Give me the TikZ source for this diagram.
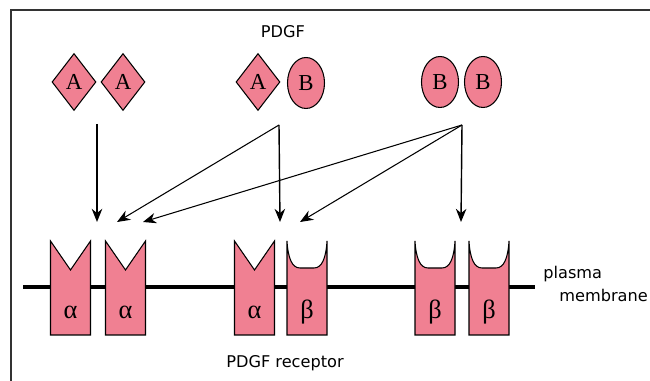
\documentclass[tikz,border=0pt]{standalone}
\usepackage{fontspec}
\newfontfamily\labelfont{DejaVu Sans}
\newfontfamily\letterfont{Liberation Serif}
\usetikzlibrary{shapes.geometric,arrows.meta}

\definecolor{recpink}{RGB}{240,128,146}

\tikzset{
	ligA/.style={diamond,draw,fill=recpink,line width=0.6pt,minimum width=0.88cm,minimum height=1.14cm,inner sep=0pt,font=\letterfont\fontsize{13}{13}\selectfont},
	ligB/.style={ellipse,draw,fill=recpink,line width=0.6pt,minimum width=0.74cm,minimum height=1.02cm,inner sep=0pt,font=\letterfont\fontsize{13}{13}\selectfont},
	greek/.style={font=\letterfont\fontsize{15}{15}\selectfont},
	txt/.style={font=\labelfont\fontsize{9.2}{9.2}\selectfont},
	alpharec/.pic={
		\draw[fill=recpink,line width=0.6pt] (-20,0)--(0,29)--(20,0)--(20,94)--(-20,94)--cycle;
		\node[greek] at (0,71) {α};
	},
	betarec/.pic={
		\draw[fill=recpink,line width=0.6pt] (-20,0) .. controls (-19,17) and (-15,27) .. (-7,27)--(7,27) .. controls (15,27) and (19,17) .. (20,0)--(20,94)--(-20,94)--cycle;
		\node[greek] at (0,71) {β};
	}
}

\begin{document}
\begin{tikzpicture}[x=0.02cm,y=-0.02cm,>={Stealth[length=7.5pt,width=6pt]}]
	\useasboundingbox (0,0) rectangle (650,381);
	\draw[line width=0.8pt,black!80] (11,381) |- (650,10);

	%labels
	\node[txt] (pdgf) at (283,32) {PDGF};
	\node[txt] (pdgfr) at (285,363) {PDGF receptor};
	\node[txt,anchor=west,inner sep=0pt] (plasma) at (543,274) {plasma};
	\node[txt,anchor=west,inner sep=0pt] (membr) at (559,295) {membrane};

	%ligands
	\node[ligA] (a1) at (74,82) {A};
	\node[ligA] (a2) at (123,82) {A};
	\node[ligA] (a3) at (258,82) {A};
	\node[ligB] (b1) at (306,83) {B};
	\node[ligB] (b2) at (440,82) {B};
	\node[ligB] (b3) at (483,82) {B};

	%membrane and receptors
	\draw[line width=2.3pt] (23,287)--(535,287);
	\pic at (70.5,241) {alpharec};
	\pic at (125.5,241) {alpharec};
	\pic at (254.5,241) {alpharec};
	\pic at (307,241) {betarec};
	\pic at (435,241) {betarec};
	\pic at (489,241) {betarec};

	%binding
	\coordinate (jaa) at (97,124);
	\coordinate (jab) at (279,125);
	\coordinate (jbb) at (462,125);
	\coordinate (taa) at (97,222);
	\coordinate (ta2) at (117,222);
	\coordinate (ta3) at (143,222);
	\coordinate (tab) at (280,222);
	\coordinate (tb1) at (300,222);
	\coordinate (tbb) at (461,222);
	\draw[->,line width=1pt] (jaa)--(taa);
	\draw[->,line width=0.8pt] (jab)--(tab);
	\draw[->,line width=0.6pt] (jab)--(ta2);
	\draw[->,line width=0.6pt] (jbb)--(ta3);
	\draw[->,line width=0.6pt] (jbb)--(tb1);
	\draw[->,line width=0.8pt] (jbb)--(tbb);
\end{tikzpicture}
\end{document}
